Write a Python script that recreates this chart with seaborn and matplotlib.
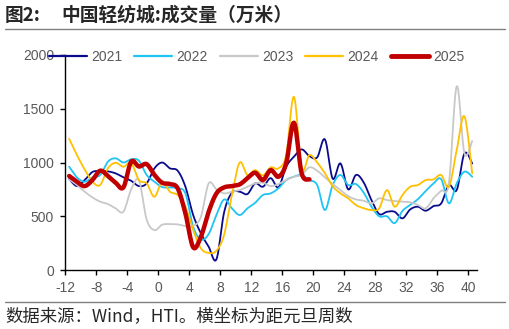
import numpy as np
import pandas as pd
import matplotlib
matplotlib.use("Agg")
import matplotlib.pyplot as plt
import seaborn as sns

# Weekly turnover of China Light Textile City (10k metres), by weeks from New Year's Day
weeks = list(range(-12, 41))
weeks_2025 = list(range(-12, 20))

v2021 = [847, 781, 837, 912, 921, 918, 899, 862, 830, 781, 806, 946, 1000, 946, 924, 775,
         512, 341, 217, 100, 540, 719, 729, 707, 806, 775, 855, 769, 961, 1054, 1122, 1060,
         1048, 1215, 850, 992, 750, 884, 815, 651, 521, 542, 542, 481, 564, 589, 552, 595,
         620, 791, 744, 1085, 992]
v2022 = [961, 862, 822, 862, 884, 1008, 1039, 1000, 1030, 1017, 884, 822, 772, 769, 760, 713,
         403, 285, 335, 512, 657, 574, 512, 574, 626, 698, 713, 760, 837, 868, 884, 837,
         791, 558, 791, 884, 791, 800, 720, 590, 500, 500, 437, 550, 605, 660, 735, 805,
         845, 620, 806, 915, 868]
v2023 = [843, 791, 729, 676, 636, 614, 574, 543, 750, 834, 470, 372, 422, 428, 425, 409,
         409, 496, 806, 750, 713, 729, 744, 775, 806, 812, 781, 800, 837, 868, 884, 955,
         924, 862, 800, 744, 688, 657, 645, 620, 667, 651, 642, 636, 630, 605, 574, 667,
         738, 812, 1710, 1085, 1200]
v2024 = [1220, 1070, 936, 822, 791, 946, 998, 961, 998, 837, 806, 682, 820, 729, 698, 589,
         372, 202, 160, 180, 330, 700, 1000, 884, 930, 880, 955, 946, 1070, 1612, 946, 1070,
         1000, 900, 780, 713, 667, 605, 575, 558, 574, 744, 589, 698, 775, 791, 837, 843,
         884, 775, 1116, 1430, 899]
v2025 = [875, 822, 781, 837, 924, 874, 812, 769, 1008, 963, 985, 885, 812, 800, 760, 527,
         212, 310, 543, 713, 769, 781, 797, 853, 905, 837, 930, 868, 992, 1370, 899, 843]

years = ["2021", "2022", "2023", "2024", "2025"]
colors = {"2021": "#0a0a8c", "2022": "#1ec4f4", "2023": "#c8c8c8",
          "2024": "#ffc000", "2025": "#c00000"}
widths = {"2021": 1.3, "2022": 1.3, "2023": 1.3, "2024": 1.3, "2025": 3.2}
series = {"2021": (weeks, v2021), "2022": (weeks, v2022), "2023": (weeks, v2023),
          "2024": (weeks, v2024), "2025": (weeks_2025, v2025)}


def smooth(x, y, n=10):
    """Bezier smoothing through every point (Catmull-Rom control points)."""
    P = np.column_stack([np.asarray(x, float), np.asarray(y, float)])
    P = np.vstack([P[0], P, P[-1]])
    t = np.linspace(0, 1, n, endpoint=False)[:, None]
    parts = []
    for i in range(1, len(P) - 2):
        p0, p1, p2, p3 = P[i - 1], P[i], P[i + 1], P[i + 2]
        b1 = p1 + (p2 - p0) / 6
        b2 = p2 - (p3 - p1) / 6
        parts.append((1 - t) ** 3 * p1 + 3 * (1 - t) ** 2 * t * b1
                     + 3 * (1 - t) * t ** 2 * b2 + t ** 3 * p2)
    parts.append(P[-2][None])
    return np.vstack(parts)


sns.set_style("ticks")
plt.rcParams["font.family"] = ["Liberation Sans", "Noto Sans CJK SC", "DejaVu Sans"]
plt.rcParams["axes.unicode_minus"] = False

W, H = 510, 329
fig = plt.figure(figsize=(W / 100, H / 100), dpi=100)
ax = fig.add_axes([0.128, 0.179, 0.807, 0.654])

handles = []
for yr in years:
    wk, vals = series[yr]
    # each week's value sits in the middle of its week slot
    pts = smooth(np.asarray(wk) + 0.5, vals)
    df = pd.DataFrame({"week": pts[:, 0], "value": pts[:, 1]})
    sns.lineplot(data=df, x="week", y="value", ax=ax, color=colors[yr],
                 linewidth=widths[yr], sort=False, estimator=None,
                 solid_capstyle="round", label=yr, legend=False)
    handles.append(plt.Line2D([], [], color=colors[yr], linewidth=widths[yr] + 0.3,
                              solid_capstyle="round"))

ax.set_xlim(-12, 41.1)
ax.set_ylim(0, 2000)
ax.set_xticks(range(-12, 41, 4))
ax.set_yticks(range(0, 2001, 500))
ax.set_xlabel("")
ax.set_ylabel("")
for s in ["top", "right"]:
    ax.spines[s].set_visible(False)
for s in ["left", "bottom"]:
    ax.spines[s].set_color("black")
    ax.spines[s].set_linewidth(1.0)
ax.tick_params(axis="both", direction="out", length=3.5, width=1.0, color="black",
               labelsize=10, labelcolor="#595959", pad=4.5)

fig.legend(handles, years, loc="center", bbox_to_anchor=(0.503, 0.828), ncol=5,
           frameon=False, fontsize=10, handlelength=2.75, handletextpad=0.3,
           columnspacing=0.85, labelcolor="#595959")

cjk = ["Noto Sans CJK SC", "DejaVu Sans"]
fig.text(5 / W, 0.954, "图2:", fontsize=13.5, fontweight="bold",
         ha="left", va="center", family=cjk)
fig.text(61 / W, 0.954, "中国轻纺城:成交量（万米）", fontsize=13.5, fontweight="bold",
         ha="left", va="center", family=cjk)
fig.add_artist(plt.Line2D([0.01, 0.99], [0.911, 0.911], color="#808080", linewidth=1.0))
fig.add_artist(plt.Line2D([0.01, 0.99], [0.083, 0.083], color="#808080", linewidth=1.0))
fig.text(0.01, 0.040, "数据来源：Wind，HTI。横坐标为距元旦周数", fontsize=12.5,
         ha="left", va="center", family=cjk)

fig.savefig("out.png", dpi=100)
